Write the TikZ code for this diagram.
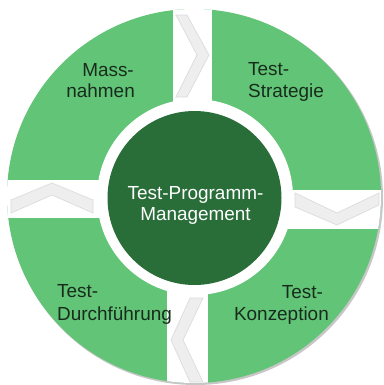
\documentclass[tikz,border=0pt]{standalone}
\usepackage{fontspec}
\setmainfont{Liberation Sans}
\definecolor{lg}{RGB}{98,196,118}
\definecolor{dg}{RGB}{41,110,57}
\definecolor{tx}{RGB}{24,44,29}
\definecolor{chev}{RGB}{238,238,238}
\definecolor{chevline}{RGB}{220,220,220}
\begin{document}
\begin{tikzpicture}[x=1bp,y=-1bp,
  lab/.style={font=\fontsize{19}{22}\selectfont, text=tx, inner sep=0pt},
  clab/.style={font=\fontsize{19}{22}\selectfont, text=white, inner sep=0pt},
  chevron/.style={fill=chev, draw=chevline, line width=0.7bp, line join=miter}]
\useasboundingbox (0,0) rectangle (384,385);
% shadow and outer disc
\fill[black!22] (195.5,197.5) circle (187.5);
\fill[lg] (194,196) circle (187);
\begin{scope}
  \clip (194,196) circle (187);
  % white gaps between the four segments
  \fill[white] (173,0) rectangle (212,197);
  \fill[white] (167,197) rectangle (208,385);
  \fill[white] (195,190) rectangle (384,229);
  \fill[white] (0,180) rectangle (195,218);
  % chevrons
  \filldraw[chevron] (176,15) -- (187,15) -- (209,55) -- (187,97) -- (176,97) -- (197,55) -- cycle;
  \filldraw[chevron] (295,193) -- (337,213) -- (379,193) -- (379,205) -- (337,225) -- (295,207) -- cycle;
  \filldraw[chevron] (190,298) -- (203,298) -- (183,340) -- (203,382) -- (190,382) -- (171,340) -- cycle;
  \filldraw[chevron] (11,200) -- (52,183) -- (93,200) -- (93,213) -- (52,195) -- (11,213) -- cycle;
\end{scope}
% centre
\fill[white] (195,197) circle (98);
\fill[dg] (194.5,198) circle (87);
\node[clab, anchor=base] (c1) at (195.5,199) {Test-Programm-};
\node[clab, anchor=base] (c2) at (195.5,220) {Management};
% labels
\node[lab, anchor=base east] (m1) at (134,76) {Mass-};
\node[lab, anchor=base east] (m2) at (135,97) {nahmen};
\node[lab, anchor=base west] (s1) at (248,75) {Test-};
\node[lab, anchor=base west] (s2) at (248,97) {Strategie};
\node[lab, anchor=base west] (d1) at (57,297) {Test-};
\node[lab, anchor=base west] (d2) at (57,320) {Durchführung};
\node[lab, anchor=base east] (k1) at (323,298) {Test-};
\node[lab, anchor=base east] (k2) at (329,320) {Konzeption};
\end{tikzpicture}
\end{document}
